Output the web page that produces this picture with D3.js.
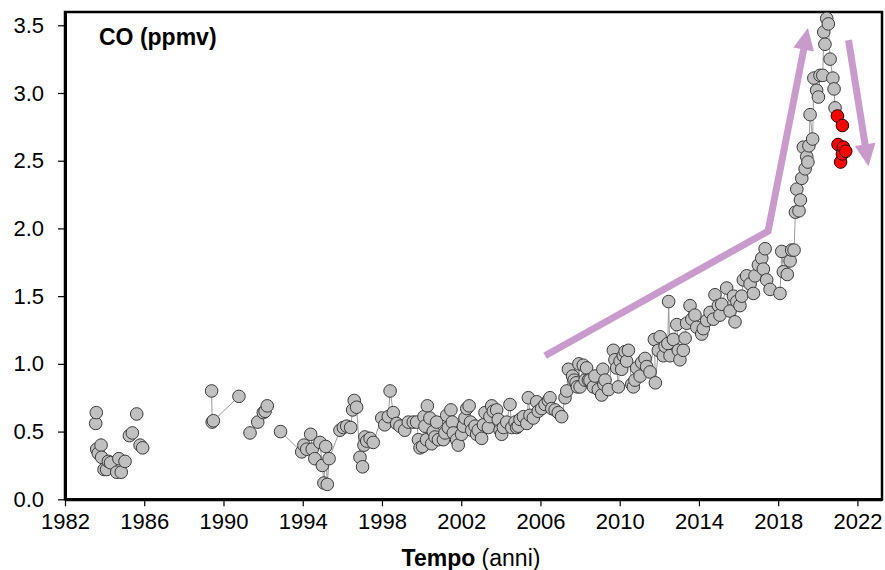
<!DOCTYPE html>
<html>
<head>
<meta charset="utf-8">
<script src="https://cdn.jsdelivr.net/npm/d3@7"></script>
<style>
  html, body { margin: 0; padding: 0; background: #fff; }
  svg { display: block; }
  text { font-family: "Liberation Sans", Arial, sans-serif; fill: #000; }
</style>
</head>
<body>
<div id="chart"></div>
<script>
// ---------------- data ----------------
const coYear = [
  1983.55,1983.58,1983.60,1983.68,1983.82,1983.85,1983.97,1984.10,1984.19,1984.30,
  1984.61,1984.72,1984.84,1985.03,1985.25,1985.40,1985.62,1985.79,1985.92,
  1989.40,1989.43,1989.49,1990.78,1991.34,1991.73,1992.01,1992.10,1992.21,1992.88,
  1993.95,1994.06,1994.20,1994.40,1994.48,1994.61,1994.87,1994.99,1995.07,1995.16,1995.24,1995.33,
  1995.88,1996.05,1996.22,1996.42,1996.52,1996.60,1996.72,1996.89,1997.02,1997.09,1997.14,1997.23,
  1997.40,1997.56,1997.99,1998.14,1998.32,1998.41,1998.57,1998.74,1998.91,1999.15,1999.33,1999.58,
  1999.75,1999.84,1999.92,2000.05,2000.12,2000.17,2000.25,2000.29,2000.42,2000.51,2000.59,2000.68,
  2000.76,2000.85,2001.10,2001.18,2001.27,2001.35,2001.48,2001.55,2001.60,2001.77,2001.85,2002.02,
  2002.11,2002.19,2002.28,2002.40,2002.47,2002.53,2002.70,2002.78,2002.86,2003.03,2003.12,2003.20,
  2003.37,2003.45,2003.54,2003.62,2003.79,2003.87,2003.96,2004.04,2004.13,2004.30,2004.46,2004.55,
  2004.72,2004.80,2004.88,2004.97,2005.14,2005.31,2005.39,2005.47,2005.64,2005.81,2005.89,2006.06,
  2006.23,2006.40,2006.48,2006.57,2006.74,2006.90,2007.07,2007.24,2007.33,2007.41,2007.62,2007.70,
  2007.80,2007.86,2007.94,2008.00,2008.16,2008.25,2008.33,2008.42,2008.50,2008.67,2008.75,2008.92,
  2009.09,2009.15,2009.20,2009.26,2009.43,2009.68,2009.76,2009.85,2009.93,2010.02,2010.10,2010.18,
  2010.27,2010.35,2010.44,2010.61,2010.69,2010.77,2010.86,2011.03,2011.11,2011.28,2011.36,2011.53,
  2011.75,2011.80,2011.95,2012.04,2012.20,2012.29,2012.43,2012.47,2012.54,2012.71,2012.88,2012.96,
  2013.04,2013.21,2013.30,2013.38,2013.55,2013.64,2013.80,2013.89,2014.14,2014.22,2014.39,2014.56,
  2014.73,2014.81,2014.98,2015.06,2015.15,2015.40,2015.57,2015.74,2015.82,2015.91,2016.07,2016.16,
  2016.24,2016.41,2016.58,2016.75,2016.83,2017.00,2017.17,2017.25,2017.34,2017.42,2017.59,2018.09,
  2018.18,2018.26,2018.46,2018.60,2018.68,2018.80,2018.87,2018.94,2019.05,2019.12,2019.19,2019.27,
  2019.36,2019.44,2019.50,2019.55,2019.61,2019.74,2019.80,2019.94,2020.03,2020.11,2020.25,2020.30,
  2020.36,2020.45,2020.53,2020.62,2020.76,2020.82,2020.87
];
const coValue = [
  0.56,0.64,0.37,0.34,0.40,0.31,0.22,0.22,0.28,0.27,
  0.20,0.30,0.20,0.28,0.47,0.49,0.63,0.40,0.38,
  0.80,0.57,0.58,0.76,0.49,0.57,0.64,0.65,0.69,0.50,
  0.35,0.40,0.37,0.48,0.37,0.30,0.42,0.25,0.12,0.39,0.11,0.30,
  0.51,0.53,0.54,0.53,0.66,0.73,0.68,0.31,0.24,0.40,0.46,0.43,
  0.45,0.42,0.60,0.55,0.61,0.80,0.64,0.56,0.54,0.51,0.57,0.57,
  0.57,0.44,0.38,0.39,0.61,0.54,0.44,0.69,0.60,0.41,0.50,0.46,
  0.57,0.44,0.44,0.49,0.62,0.53,0.66,0.57,0.49,0.44,0.40,0.48,
  0.54,0.60,0.67,0.69,0.57,0.51,0.54,0.48,0.51,0.45,0.55,0.64,
  0.53,0.61,0.69,0.65,0.66,0.59,0.51,0.48,0.53,0.57,0.70,0.53,
  0.57,0.53,0.54,0.59,0.61,0.56,0.75,0.62,0.60,0.72,0.65,0.67,
  0.70,0.73,0.75,0.67,0.66,0.64,0.61,0.75,0.80,0.96,0.91,0.88,
  0.86,0.83,1.00,0.83,0.99,0.88,0.97,0.88,0.88,0.83,0.91,0.81,
  0.77,0.96,0.85,0.88,0.81,1.10,1.03,0.97,0.83,1.02,0.96,1.06,
  1.09,1.02,1.10,0.85,0.83,0.88,0.97,0.91,1.01,1.04,0.98,0.94,
  1.18,0.86,1.10,1.20,1.06,1.13,1.15,1.46,1.06,1.18,1.29,1.10,
  1.03,1.10,1.19,1.30,1.43,1.33,1.36,1.27,1.22,1.26,1.32,1.38,
  1.33,1.51,1.43,1.36,1.44,1.56,1.39,1.50,1.31,1.46,1.43,1.50,
  1.62,1.65,1.59,1.52,1.65,1.73,1.78,1.70,1.85,1.62,1.55,1.52,
  1.83,1.68,1.66,1.76,1.84,1.84,2.12,2.29,2.13,2.21,2.37,2.60,
  2.44,2.53,2.49,2.61,2.84,2.66,3.11,3.02,2.97,3.13,3.13,3.45,
  3.36,3.55,3.51,3.25,3.11,3.03,2.89
];
// 2021 observations (highlighted in red)
const co2021Year  = [2020.99, 2021.02, 2021.15, 2021.24, 2021.24, 2021.29, 2021.41];
const co2021Value = [2.83,    2.62,    2.49,    2.76,    2.55,    2.60,    2.57];

const xTickLabels = [1982, 1986, 1990, 1994, 1998, 2002, 2006, 2010, 2014, 2018, 2022];
const yTickLabels = [0.0, 0.5, 1.0, 1.5, 2.0, 2.5, 3.0, 3.5];

// connecting lines start in 1989 and break after these observations
const lineStartYear = 1989;
const lineBreakAfter = [1990.78, 1992.21];

// trend arrows (data coordinates)
const arrowUp   = [[2006.23, 1.06], [2017.49, 1.98], [2019.50, 3.48]];
const arrowDown = [[2021.55, 3.39], [2022.56, 2.46]];

const titleText = "CO (ppmv)";
const xLabelBold = "Tempo";
const xLabelRest = " (anni)";

// ---------------- drawing ----------------
const W = 885, H = 570;
const M = { left: 65, top: 12, right: 882, bottom: 499.3 };

const svg = d3.select("#chart").append("svg")
  .attr("width", W).attr("height", H);

const x = d3.scaleLinear().domain([1982, 2023.24]).range([M.left, M.right]);
const y = d3.scaleLinear().domain([0, 3.598]).range([M.bottom, M.top]);

// frame
svg.append("rect")
  .attr("x", M.left).attr("y", M.top)
  .attr("width", M.right - M.left).attr("height", M.bottom - M.top)
  .attr("fill", "none").attr("stroke", "#000").attr("stroke-width", 2.5);

// axes
const xAxis = d3.axisBottom(x).tickValues(xTickLabels).tickFormat(d3.format("d"))
  .tickSizeInner(7).tickSizeOuter(0).tickPadding(6);
const gx = svg.append("g").attr("transform", `translate(0,${M.bottom})`).call(xAxis);
gx.select(".domain").attr("stroke-width", 3);
gx.selectAll(".tick line").attr("stroke-width", 1.2);
gx.selectAll("text").attr("font-size", 22).attr("dy", "0.78em")
  .style("font-family", '"Liberation Sans", Arial, sans-serif');

const yAxis = d3.axisLeft(y).tickValues(yTickLabels).tickFormat(d3.format(".1f"))
  .tickSizeInner(7).tickSizeOuter(0).tickPadding(14);
const gy = svg.append("g").attr("transform", `translate(${M.left},0)`).call(yAxis);
gy.select(".domain").attr("stroke-width", 3);
gy.selectAll(".tick line").attr("stroke-width", 1.2);
gy.selectAll("text").attr("font-size", 22)
  .style("font-family", '"Liberation Sans", Arial, sans-serif');

// data
const pts = coYear.map((yr, i) => ({ yr, v: coValue[i] }));
const red = co2021Year.map((yr, i) => ({ yr, v: co2021Value[i] }));

// connecting lines
const segments = [];
let cur = null;
pts.forEach((p, i) => {
  if (p.yr < lineStartYear) { cur = null; return; }
  if (!cur) { cur = []; segments.push(cur); }
  cur.push(p);
  if (lineBreakAfter.includes(p.yr)) cur = null;
});
const line = d3.line().x(d => x(d.yr)).y(d => y(d.v));
svg.append("g").selectAll("path").data(segments.filter(s => s.length > 1)).join("path")
  .attr("d", line).attr("fill", "none").attr("stroke", "#9a9a9a").attr("stroke-width", 1);

// arrows
const arrowColor = "#c99bcc";
function drawArrow(coords) {
  const p = coords.map(c => [x(c[0]), y(c[1])]);
  const n = p.length;
  const tip = p[n - 1], prev = p[n - 2];
  const dx = tip[0] - prev[0], dy = tip[1] - prev[1];
  const len = Math.hypot(dx, dy);
  const ux = dx / len, uy = dy / len;
  const headLen = 22, headHalf = 10.5;
  const base = [tip[0] - ux * headLen, tip[1] - uy * headLen];
  const shaft = p.slice(0, n - 1).concat([[base[0] + ux * 2, base[1] + uy * 2]]);
  svg.append("path")
    .attr("d", d3.line()(shaft))
    .attr("fill", "none").attr("stroke", arrowColor).attr("stroke-width", 7)
    .attr("stroke-linejoin", "miter");
  const nx = -uy, ny = ux;
  svg.append("path")
    .attr("d", d3.line()([tip,
      [base[0] + nx * headHalf, base[1] + ny * headHalf],
      [base[0] - nx * headHalf, base[1] - ny * headHalf]]) + "Z")
    .attr("fill", arrowColor);
}
drawArrow(arrowUp);
drawArrow(arrowDown);

// points
svg.append("g").selectAll("circle").data(pts).join("circle")
  .attr("cx", d => x(d.yr)).attr("cy", d => y(d.v)).attr("r", 6.3)
  .attr("fill", "#c0c0c0").attr("stroke", "#3a3a3a").attr("stroke-width", 1);

svg.append("g").selectAll("circle").data(red).join("circle")
  .attr("cx", d => x(d.yr)).attr("cy", d => y(d.v)).attr("r", 6.3)
  .attr("fill", "#ff0000").attr("stroke", "#2a0000").attr("stroke-width", 1);

// title
svg.append("text").attr("x", 99).attr("y", 45)
  .attr("font-size", 23).attr("font-weight", "bold").text(titleText);

// x label
const xl = svg.append("text").attr("x", 471).attr("y", 566)
  .attr("text-anchor", "middle").attr("font-size", 23);
xl.append("tspan").attr("font-weight", "bold").text(xLabelBold);
xl.append("tspan").text(xLabelRest);
</script>
</body>
</html>
